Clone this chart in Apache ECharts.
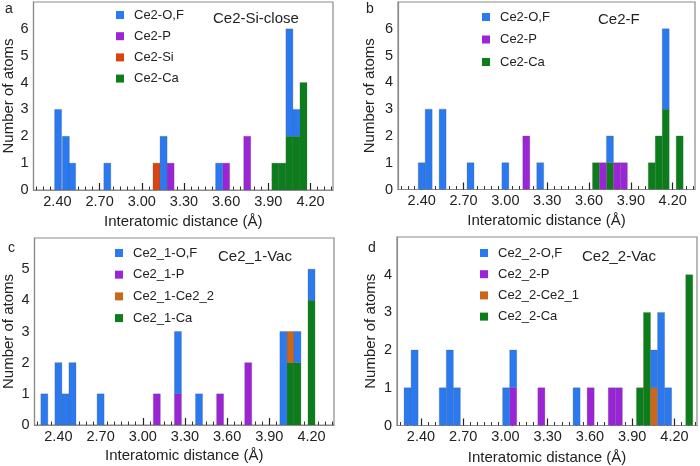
<!DOCTYPE html>
<html>
<head>
<meta charset="utf-8">
<script src="https://cdn.jsdelivr.net/npm/echarts@6/dist/echarts.min.js"></script>
<style>
html,body{margin:0;padding:0;background:#fff;}
#chart{width:700px;height:466px;}
</style>
</head>
<body>
<div id="chart"></div>
<script>
// ---------- data (bar centres in Å, counts) ----------
// Panel a : Ce2-Si-close
const aOFx = [2.405, 2.46, 2.505, 2.755, 3.155, 3.55, 4.05, 4.10];
const aOFy = [3, 2, 1, 1, 2, 1, 4, 1];
const aPx  = [3.205, 3.60, 3.75];
const aPy  = [1, 1, 2];
const aSix = [3.105];
const aSiy = [1];
const aCax = [3.95, 4.00, 4.05, 4.10, 4.15];
const aCay = [1, 1, 2, 2, 4];

// Panel b : Ce2-F
const bOFx = [2.40, 2.45, 2.55, 2.75, 3.00, 3.25, 3.75, 4.15];
const bOFy = [1, 3, 3, 1, 1, 1, 1, 3];
const bPx  = [3.15, 3.70, 3.80, 3.85];
const bPy  = [2, 1, 1, 1];
const bCax = [3.65, 3.75, 4.05, 4.10, 4.15, 4.25];
const bCay = [1, 1, 1, 2, 3, 2];

// Panel c : Ce2_1-Vac
const cOFx = [2.30, 2.40, 2.45, 2.50, 2.70, 3.25, 3.40, 4.00, 4.10, 4.20];
const cOFy = [1, 2, 1, 2, 1, 2, 1, 3, 1, 1];
const cPx  = [3.10, 3.25, 3.55, 3.75];
const cPy  = [1, 1, 1, 2];
const cCex = [4.05];
const cCey = [1];
const cCax = [4.05, 4.10, 4.20];
const cCay = [2, 2, 4];

// Panel d : Ce2_2-Vac
const dOFx = [2.305, 2.355, 2.555, 2.605, 2.655, 3.005, 3.055, 3.505, 4.055, 4.105, 4.155];
const dOFy = [1, 2, 1, 2, 1, 1, 1, 1, 1, 3, 1];
const dPx  = [3.055, 3.255, 3.605, 3.755, 3.805];
const dPy  = [1, 1, 1, 1, 1];
const dCex = [4.055];
const dCey = [1];
const dCax = [3.955, 4.005, 4.305];
const dCay = [1, 3, 4];

// tick values / labels
const majorTicks = [2.40, 2.70, 3.00, 3.30, 3.60, 3.90, 4.20];
const minorTicks = [2.25, 2.30, 2.35, 2.40, 2.45, 2.50, 2.55, 2.60, 2.65, 2.70, 2.75, 2.80, 2.85,
  2.90, 2.95, 3.00, 3.05, 3.10, 3.15, 3.20, 3.25, 3.30, 3.35, 3.40, 3.45, 3.50, 3.55, 3.60,
  3.65, 3.70, 3.75, 3.80, 3.85, 3.90, 3.95, 4.00, 4.05, 4.10, 4.15, 4.20, 4.25, 4.30, 4.35];
const xTitle = 'Interatomic distance (Å)';
const yTitle = 'Number of atoms';
const BIN = 0.05;

// ---------- styling ----------
const BLUE = '#2a79f0', PURPLE = '#9a24d6', SI = '#dc4312', CECE = '#cc6618', GREEN = '#0b7e1b';
const FONT = '"Liberation Sans", Arial, Helvetica, sans-serif';
const X_MIN = 2.23, X_MAX = 4.36;

const panels = [
  { grid:{left:32, top:2, width:301, height:188}, yMax:7, letter:'a', letterXY:[5,9],
    title:'Ce2-Si-close', titleXY:[213,19], legendXY:[116,8], legendGap:7.2, yGap:17.5, xGap:24.5,
    series:[{name:'Ce2-Ca',c:GREEN,x:aCax,y:aCay},{name:'Ce2-Si',c:SI,x:aSix,y:aSiy},
            {name:'Ce2-P',c:PURPLE,x:aPx,y:aPy},{name:'Ce2-O,F',c:BLUE,x:aOFx,y:aOFy}],
    legend:['Ce2-O,F','Ce2-P','Ce2-Si','Ce2-Ca'] },
  { grid:{left:398, top:2, width:297, height:187.5}, yMax:7, letter:'b', letterXY:[366,9],
    title:'Ce2-F', titleXY:[598,20], legendXY:[482,10], legendGap:8.5, yGap:20.5, xGap:23.5,
    series:[{name:'Ce2-Ca',c:GREEN,x:bCax,y:bCay},
            {name:'Ce2-P',c:PURPLE,x:bPx,y:bPy},{name:'Ce2-O,F',c:BLUE,x:bOFx,y:bOFy}],
    legend:['Ce2-O,F','Ce2-P','Ce2-Ca'] },
  { grid:{left:33, top:238, width:301, height:187}, yMax:6, letter:'c', letterXY:[8,248],
    title:'Ce2_1-Vac', titleXY:[218,257], legendXY:[115,246], legendGap:7.7, yGap:18.5, xGap:23.5,
    series:[{name:'Ce2_1-Ca',c:GREEN,x:cCax,y:cCay},{name:'Ce2_1-Ce2_2',c:CECE,x:cCex,y:cCey},
            {name:'Ce2_1-P',c:PURPLE,x:cPx,y:cPy},{name:'Ce2_1-O,F',c:BLUE,x:cOFx,y:cOFy}],
    legend:['Ce2_1-O,F','Ce2_1-P','Ce2_1-Ce2_2','Ce2_1-Ca'] },
  { grid:{left:397, top:237, width:300, height:189}, yMax:5, letter:'d', letterXY:[368,248],
    title:'Ce2_2-Vac', titleXY:[582,257], legendXY:[480,246], legendGap:7.2, yGap:18.5, xGap:24.5,
    series:[{name:'Ce2_2-Ca',c:GREEN,x:dCax,y:dCay},{name:'Ce2_2-Ce2_1',c:CECE,x:dCex,y:dCey},
            {name:'Ce2_2-P',c:PURPLE,x:dPx,y:dPy},{name:'Ce2_2-O,F',c:BLUE,x:dOFx,y:dOFy}],
    legend:['Ce2_2-O,F','Ce2_2-P','Ce2_2-Ce2_1','Ce2_2-Ca'] }
];

function renderBar(params, api) {
  const c = api.value(0), h = api.value(1), b = api.value(2);
  const p0 = api.coord([c - BIN / 2, b + h]);
  const p1 = api.coord([c + BIN / 2, b]);
  return {
    type: 'rect',
    shape: { x: p0[0], y: p0[1], width: p1[0] - p0[0], height: p1[1] - p0[1] },
    style: { fill: api.visual('color'), stroke: 'rgba(90,90,90,0.45)', lineWidth: 0.6 }
  };
}

const option = { animation:false, backgroundColor:'#fff', textStyle:{fontFamily:FONT},
  grid:[], xAxis:[], yAxis:[], series:[], legend:[], graphic:[] };

panels.forEach((p, i) => {
  option.grid.push(Object.assign({ show:true, borderColor:'#8a8a8a', borderWidth:1.2, backgroundColor:'transparent' }, p.grid));
  // minor ticks axis
  option.xAxis.push({ gridIndex:i, type:'value', min:X_MIN, max:X_MAX, position:'bottom',
    axisLine:{show:true, lineStyle:{color:'#8a8a8a', width:1.2}},
    axisTick:{show:true, inside:true, length:3.5, customValues:minorTicks, lineStyle:{color:'#333', width:1}},
    axisLabel:{show:false}, splitLine:{show:false} });
  // major ticks + labels axis
  option.xAxis.push({ gridIndex:i, type:'value', min:X_MIN, max:X_MAX, position:'bottom',
    axisLine:{show:false},
    axisTick:{show:true, inside:true, length:7, customValues:majorTicks, lineStyle:{color:'#222', width:1.2}},
    axisLabel:{show:true, customValues:majorTicks, formatter:v => v.toFixed(2), fontSize:14.5, color:'#222', margin:4, fontFamily:FONT},
    splitLine:{show:false},
    name:xTitle, nameLocation:'middle', nameGap:p.xGap, nameTextStyle:{fontSize:15, color:'#222', fontFamily:FONT} });
  option.yAxis.push({ gridIndex:i, type:'value', min:0, max:p.yMax, interval:1,
    axisLine:{show:true, lineStyle:{color:'#8a8a8a', width:1.2}},
    axisTick:{show:false},
    axisLabel:{showMaxLabel:false, fontSize:14.5, color:'#222', margin:5, fontFamily:FONT},
    splitLine:{show:false},
    name:yTitle, nameLocation:'middle', nameGap:p.yGap, nameTextStyle:{fontSize:15, color:'#222', fontFamily:FONT} });

  const acc = {};
  p.series.forEach(s => {
    const data = s.x.map((c, k) => {
      const key = c.toFixed(3);
      const base = acc[key] || 0;
      acc[key] = base + s.y[k];
      return [c, s.y[k], base];
    });
    option.series.push({ type:'custom', name:s.name, xAxisIndex:2 * i + 1, yAxisIndex:i,
      itemStyle:{color:s.c}, color:s.c, renderItem:renderBar, clip:true,
      encode:{x:0, y:1}, data:data });
  });

  option.legend.push({ orient:'vertical', left:p.legendXY[0], top:p.legendXY[1], padding:0,
    itemWidth:8, itemHeight:8, itemGap:p.legendGap, icon:'rect', selectedMode:false,
    textStyle:{fontSize:13, color:'#222', lineHeight:14, padding:[0,0,0,5], fontFamily:FONT},
    data:p.legend });

  option.graphic.push({ type:'text', x:p.letterXY[0], y:p.letterXY[1],
    style:{text:p.letter, font:'14px ' + FONT, fill:'#222', verticalAlign:'middle', align:'left'} });
  option.graphic.push({ type:'text', x:p.titleXY[0], y:p.titleXY[1],
    style:{text:p.title, font:'15px ' + FONT, fill:'#222', verticalAlign:'middle', align:'left'} });
});

const chart = echarts.init(document.getElementById('chart'), null, {renderer:'canvas'});
chart.setOption(option);
</script>
</body>
</html>
